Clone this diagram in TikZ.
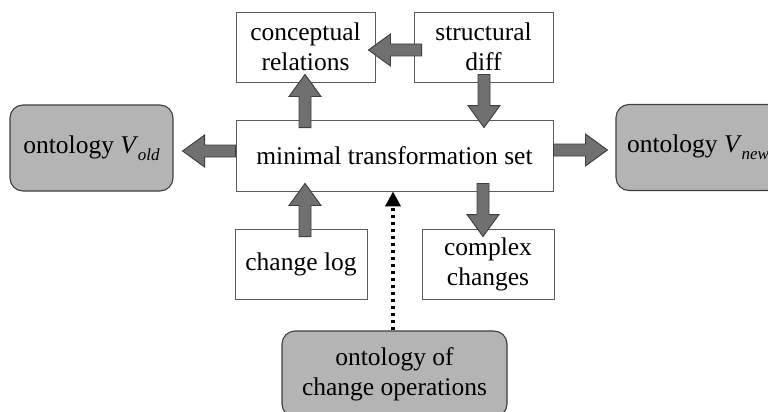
\documentclass[tikz,border=0pt]{standalone}
\usepackage{fontspec}
\setmainfont{Liberation Serif}
\usetikzlibrary{calc,arrows.meta}

\definecolor{boxline}{HTML}{5C5C5C}
\definecolor{ontofill}{HTML}{B4B4B4}
\definecolor{ontoline}{HTML}{3E3E3E}
\definecolor{arrowfill}{HTML}{707070}
\definecolor{arrowline}{HTML}{3E3E3E}

% subscripted ontology version label
\newcommand\verlabel[1]{\textit{V}\kern-0.5pt\raisebox{-7pt}{\fontsize{17}{17}\selectfont\textit{#1}}}

% wide outlined block arrow from #1 (tail) to #2 (tip)
\newcommand\blockarrow[2]{%
  \path ($(#2)!22pt!(#1)$) coordinate (bah);
  \draw[barrow] ($(#1)!6pt!90:(#2)$) -- ($(bah)!6pt!90:(#2)$)
    -- ($(bah)!16pt!90:(#2)$) -- (#2) -- ($(bah)!16pt!-90:(#2)$)
    -- ($(bah)!6pt!-90:(#2)$) -- ($(#1)!6pt!-90:(#2)$) -- cycle;}

\begin{document}
\begin{tikzpicture}[x=1pt,y=-1pt,
  box/.style={draw=boxline, line width=0.9pt, fill=white, align=center,
    inner sep=0pt, font=\fontsize{25.5}{30}\selectfont},
  onto/.style={box, draw=ontoline, fill=ontofill, rounded corners=13pt, line width=1.1pt},
  barrow/.style={draw=arrowline, fill=arrowfill, line width=0.9pt, line join=miter},
  dotlink/.style={line width=3.5pt, dash pattern=on 3.5pt off 3.5pt,
    -{Triangle[width=15pt,length=15pt]}}]
\useasboundingbox (0,0) rectangle (768,412);
\clip (0,0) rectangle (768,412);

% boxes
\node[box, minimum width=139pt, minimum height=70pt] (concept) at (305.5,47) {conceptual\\relations};
\node[box, minimum width=139pt, minimum height=70pt] (struct) at (483.5,47) {structural\\diff};
\node[box, minimum width=317pt, minimum height=71pt] (main) at (394.5,155.5) {minimal transformation set};
\node[onto, minimum width=163pt, minimum height=86pt] (vold) at (91.5,148) {ontology \verlabel{old}};
\node[onto, minimum width=164pt, minimum height=86pt] (vnew) at (698,147.5) {ontology \verlabel{new}};
\node[box, minimum width=132pt, minimum height=70pt] (changelog) at (301,264) {change log};
\node[box, minimum width=132pt, minimum height=70pt] (complex) at (488,264) {complex\\changes};
\node[onto, minimum width=225pt, minimum height=86pt] (ontops) at (394.5,374) {ontology of\\change operations};

% block arrows
\blockarrow{$(main.west)+(0,-4.5)$}{$(vold.east)+(9,3)$}
\blockarrow{$(main.north)+(-89.5,8)$}{$(concept.south)+(-0.5,-8)$}
\blockarrow{$(struct.west)+(8,3)$}{$(concept.east)+(-7,3)$}
\blockarrow{$(struct.south)+(0.5,-8)$}{$(main.north)+(89.5,8)$}
\blockarrow{$(main.east)+(0,-5.5)$}{$(vnew.west)+(-8,2.5)$}
\blockarrow{$(changelog.north)+(4,8)$}{$(main.south)+(-89.5,-8)$}
\blockarrow{$(main.south)+(88.5,-8)$}{$(complex.north)+(-5,8)$}

% dotted dependency
\draw[dotlink] ($(ontops.north)+(-1.5,0)$) -- ($(main.south)+(-1.5,0)$);
\end{tikzpicture}
\end{document}
